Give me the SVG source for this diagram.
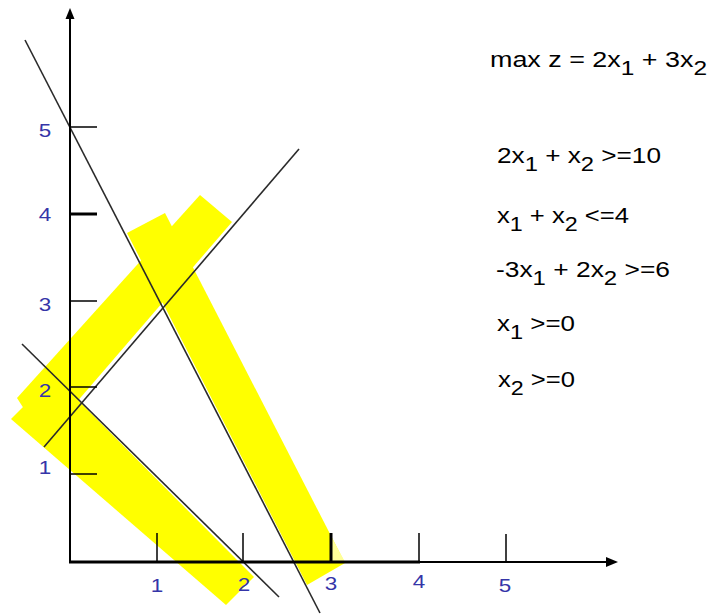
<svg xmlns="http://www.w3.org/2000/svg" width="711" height="614" viewBox="0 0 711 614">
<style>
.band{fill:#ffff00}
.light{fill:#ffff99}
.cl{stroke:#2a2a2a;stroke-width:1.6;fill:none}
.ax{stroke:#000;fill:none}
.tk{stroke:#000;stroke-width:1.5}
.tkb{stroke:#000;stroke-width:3}
.lbl{font-family:"Liberation Sans",Arial,sans-serif;font-size:19px;fill:#3535a8;text-anchor:middle}
.eq{font-family:"Liberation Sans",Arial,sans-serif;font-size:22px;fill:#000}
.sub{font-size:20px}
</style>
<rect width="711" height="614" fill="#fff"/>
<g id="bands">
  <polygon class="band" points="11,419 54,376 254,577 226,605"/>
  <polygon class="band" points="17,398 200,195 232,222 44,440"/>
  <polygon class="band" points="127,233 165,213 345,563 307,585"/>
  <polygon class="light" points="332,538 345,562 332,562"/>
</g>
<g id="connectors">
  <line class="cl" x1="25" y1="40" x2="320" y2="613"/>
  <line class="cl" x1="44" y1="447" x2="299" y2="149"/>
  <line class="cl" x1="22" y1="344" x2="279" y2="597"/>
</g>
<g id="axes">
  <line class="ax" x1="70" y1="563" x2="70" y2="17" stroke-width="2"/>
  <polygon points="70,8 65.5,19 74.5,19" fill="#000"/>
  <line class="ax" x1="69" y1="562" x2="420" y2="562" stroke-width="3.2"/>
  <line class="ax" x1="419" y1="562" x2="608" y2="562" stroke-width="2"/>
  <polygon points="618,562 606,557 606,567" fill="#000"/>
  <line class="tk" x1="70" y1="127" x2="97" y2="127"/>
  <line class="tkb" x1="70" y1="214" x2="97" y2="214"/>
  <line class="tk" x1="70" y1="301" x2="97" y2="301"/>
  <line class="tk" x1="70" y1="387" x2="97" y2="387"/>
  <line class="tk" x1="70" y1="474" x2="97" y2="474"/>
  <line class="tk" x1="157" y1="533" x2="157" y2="562"/>
  <line class="tk" x1="243" y1="533" x2="243" y2="562"/>
  <line class="tkb" x1="331" y1="533" x2="331" y2="562"/>
  <line class="tk" x1="419" y1="533" x2="419" y2="562"/>
  <line class="tk" x1="506" y1="534" x2="506" y2="562"/>
</g>
<g id="axis-labels">
  <text class="lbl" x="45" y="137" textLength="12.5" lengthAdjust="spacingAndGlyphs">5</text>
  <text class="lbl" x="45" y="221" textLength="12.5" lengthAdjust="spacingAndGlyphs">4</text>
  <text class="lbl" x="45" y="311" textLength="12.5" lengthAdjust="spacingAndGlyphs">3</text>
  <text class="lbl" x="45" y="397" textLength="12.5" lengthAdjust="spacingAndGlyphs">2</text>
  <text class="lbl" x="45" y="474" textLength="12.5" lengthAdjust="spacingAndGlyphs">1</text>
  <text class="lbl" x="157" y="592" textLength="12.5" lengthAdjust="spacingAndGlyphs">1</text>
  <text class="lbl" x="244" y="591" textLength="12.5" lengthAdjust="spacingAndGlyphs">2</text>
  <text class="lbl" x="331" y="590" textLength="12.5" lengthAdjust="spacingAndGlyphs">3</text>
  <text class="lbl" x="419" y="588" textLength="12.5" lengthAdjust="spacingAndGlyphs">4</text>
  <text class="lbl" x="505" y="592" textLength="12.5" lengthAdjust="spacingAndGlyphs">5</text>
</g>
<g id="objective">
  <text class="eq" x="490" y="67" textLength="217" lengthAdjust="spacingAndGlyphs">max z = 2x<tspan class="sub" dy="7.5">1</tspan><tspan dy="-7.5"> + 3x</tspan><tspan class="sub" dy="7.5">2</tspan></text>
</g>
<g id="constraints">
  <text class="eq" x="497" y="163" textLength="164" lengthAdjust="spacingAndGlyphs">2x<tspan class="sub" dy="7.5">1</tspan><tspan dy="-7.5"> + x</tspan><tspan class="sub" dy="7.5">2</tspan><tspan dy="-7.5"> &gt;=10</tspan></text>
  <text class="eq" x="497" y="223" textLength="132" lengthAdjust="spacingAndGlyphs">x<tspan class="sub" dy="7.5">1</tspan><tspan dy="-7.5"> + x</tspan><tspan class="sub" dy="7.5">2</tspan><tspan dy="-7.5"> &lt;=4</tspan></text>
  <text class="eq" x="496" y="277" textLength="174" lengthAdjust="spacingAndGlyphs">-3x<tspan class="sub" dy="7.5">1</tspan><tspan dy="-7.5"> + 2x</tspan><tspan class="sub" dy="7.5">2</tspan><tspan dy="-7.5"> &gt;=6</tspan></text>
  <text class="eq" x="497" y="331" textLength="78" lengthAdjust="spacingAndGlyphs">x<tspan class="sub" dy="7.5">1</tspan><tspan dy="-7.5"> &gt;=0</tspan></text>
  <text class="eq" x="498" y="387" textLength="77" lengthAdjust="spacingAndGlyphs">x<tspan class="sub" dy="7.5">2</tspan><tspan dy="-7.5"> &gt;=0</tspan></text>
</g>
</svg>
